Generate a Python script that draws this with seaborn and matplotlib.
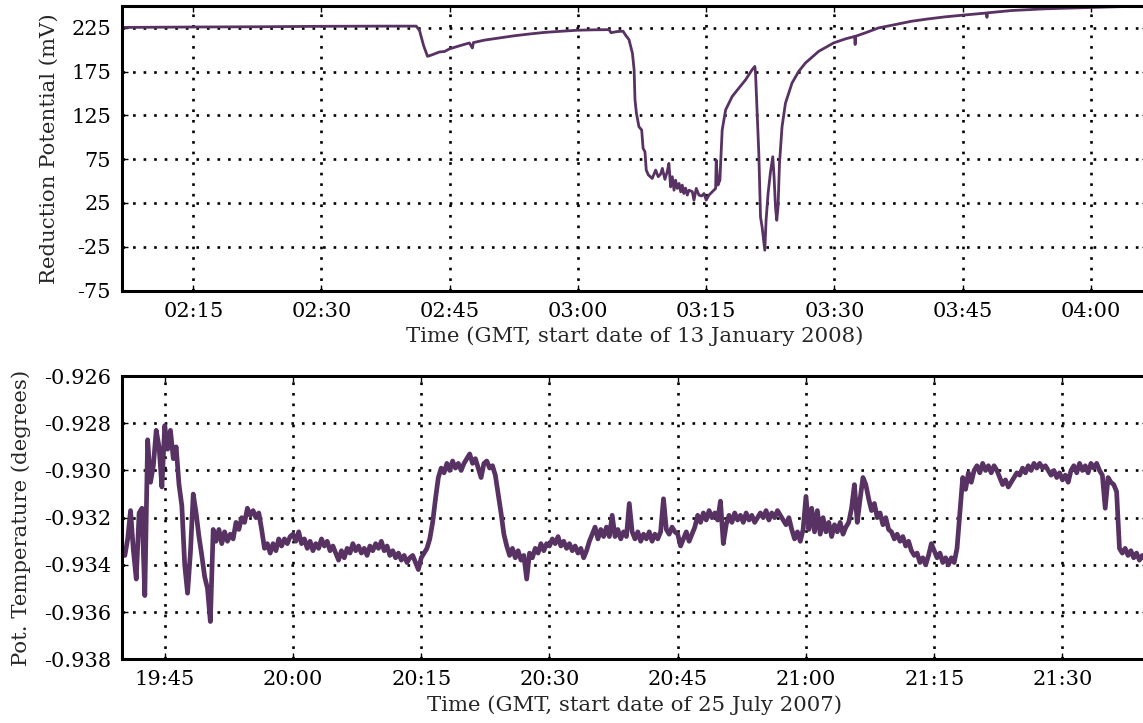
import matplotlib
matplotlib.use("Agg")
import matplotlib.pyplot as plt
import matplotlib.dates as mdates
import matplotlib.ticker as mticker
import seaborn as sns
import pandas as pd

# ---------------- data: top panel (reduction potential, mV) ----------------
redox_times = [
    "02:06:00", "02:15:00", "02:22:47", "02:30:00", "02:36:47", "02:41:05", "02:41:28", "02:41:56",
    "02:42:24", "02:42:52", "02:43:48", "02:44:23", "02:44:58", "02:46:08", "02:47:18", "02:47:39",
    "02:47:46", "02:49:03", "02:50:48", "02:52:33", "02:54:18", "02:56:03", "02:57:48", "02:59:54",
    "03:01:53", "03:03:38", "03:03:52", "03:04:34", "03:05:16", "03:05:37", "03:05:58", "03:06:22",
    "03:06:34", "03:06:40", "03:06:50", "03:07:08", "03:07:27", "03:07:37", "03:07:50", "03:07:59",
    "03:08:14", "03:08:41", "03:09:05", "03:09:23", "03:09:40", "03:09:52", "03:10:10", "03:10:26",
    "03:10:38", "03:10:50", "03:11:02", "03:11:14", "03:11:25", "03:11:37", "03:11:49", "03:12:01",
    "03:12:12", "03:12:23", "03:12:35", "03:12:47", "03:12:59", "03:13:22", "03:13:34", "03:13:50",
    "03:14:09", "03:14:28", "03:14:44", "03:15:00", "03:15:19", "03:15:42", "03:16:06", "03:16:10",
    "03:16:22", "03:16:36", "03:16:41", "03:16:52", "03:17:16", "03:18:02", "03:18:49", "03:19:36",
    "03:20:22", "03:20:41", "03:20:46", "03:21:09", "03:21:21", "03:21:32", "03:21:51", "03:22:00",
    "03:22:14", "03:22:31", "03:22:47", "03:22:56", "03:23:06", "03:23:15", "03:23:24", "03:23:34",
    "03:23:52", "03:24:16", "03:25:02", "03:25:49", "03:26:36", "03:28:09", "03:29:54", "03:31:16",
    "03:32:21", "03:32:25", "03:32:29", "03:33:36", "03:35:10", "03:37:07", "03:39:01", "03:41:00",
    "03:42:56", "03:44:51", "03:47:46", "03:47:50", "03:47:54", "03:50:41", "03:54:39", "03:58:30",
    "04:02:21", "04:05:51", "04:10:00",
]
redox_mv = [
    225.5, 226.0, 226.3, 226.8, 227.0, 227.0, 222.0, 205.0,
    192.5, 194.0, 197.5, 198.0, 201.0, 204.5, 207.8, 202.0,
    208.2, 211.0, 213.5, 216.0, 218.0, 219.8, 221.0, 222.3,
    222.8, 223.0, 219.5, 220.8, 221.2, 216.0, 211.6, 196.0,
    177.0, 143.0, 127.5, 112.0, 108.4, 87.4, 83.5, 62.6,
    57.0, 53.0, 62.6, 55.0, 58.0, 64.5, 52.0, 60.6,
    70.2, 43.4, 55.0, 39.6, 51.0, 41.6, 47.3, 37.7,
    45.4, 35.8, 42.0, 34.0, 39.6, 38.0, 28.2, 41.6,
    34.0, 33.0, 35.8, 28.2, 34.0, 37.7, 41.6, 74.0,
    45.4, 51.0, 70.0, 108.4, 131.3, 146.6, 156.2, 165.7,
    177.2, 181.0, 173.4, 81.7, 9.0, -2.4, -29.0, 5.2,
    35.8, 60.6, 77.8, 55.0, 20.5, 5.2, 20.5, 70.2,
    112.0, 139.0, 162.0, 175.3, 184.9, 198.2, 207.8, 212.4,
    215.2, 206.0, 215.5, 219.3, 225.0, 228.8, 232.6, 235.3,
    237.6, 239.4, 242.0, 237.0, 242.2, 244.8, 246.8, 247.9,
    249.0, 249.8, 250.5,
]
redox_date = "2008-01-13"
redox_xlim = ("02:06:40", "04:06:40")
redox_yticks = [-75, -25, 25, 75, 125, 175, 225]

# ---------------- data: bottom panel (potential temperature), every 20 s from 19:40 ----------------
temp_start = "2007-07-25 19:40:00"
temp_step = "20s"
pot_temp = [
    # 19:40-19:45
    -0.9333, -0.9336, -0.9329, -0.9317, -0.9334, -0.9346, -0.9318, -0.9316, -0.9353, -0.9287, -0.9305, -0.9298, -0.9283, -0.9290, -0.9307,
    # 19:45-19:50
    -0.9281, -0.9291, -0.9283, -0.9295, -0.9290, -0.9306, -0.9315, -0.9340, -0.9352, -0.9335, -0.9310, -0.9318, -0.9328, -0.9336, -0.9345,
    # 19:50-19:55
    -0.9350, -0.9364, -0.9325, -0.9330, -0.9325, -0.9331, -0.9326, -0.9330, -0.9327, -0.9329, -0.9322, -0.9325, -0.9320, -0.9322, -0.9316,
    # 19:55-20:00
    -0.9319, -0.9317, -0.9320, -0.9318, -0.9325, -0.9333, -0.9331, -0.9335, -0.9331, -0.9334, -0.9329, -0.9332, -0.9329, -0.9331, -0.9328,
    # 20:00-20:05
    -0.9327, -0.9330, -0.9326, -0.9331, -0.9329, -0.9333, -0.9330, -0.9334, -0.9331, -0.9333, -0.9329, -0.9332, -0.9330, -0.9334, -0.9332,
    # 20:05-20:10
    -0.9335, -0.9338, -0.9334, -0.9337, -0.9333, -0.9335, -0.9331, -0.9334, -0.9332, -0.9335, -0.9333, -0.9336, -0.9332, -0.9334, -0.9331,
    # 20:10-20:15
    -0.9333, -0.9330, -0.9334, -0.9332, -0.9336, -0.9334, -0.9337, -0.9335, -0.9338, -0.9336, -0.9339, -0.9337, -0.9336, -0.9339, -0.9342,
    # 20:15-20:20
    -0.9337, -0.9335, -0.9333, -0.9329, -0.9322, -0.9312, -0.9303, -0.9299, -0.9301, -0.9297, -0.9300, -0.9296, -0.9299, -0.9297, -0.9300,
    # 20:20-20:25
    -0.9297, -0.9295, -0.9293, -0.9297, -0.9295, -0.9299, -0.9303, -0.9297, -0.9296, -0.9299, -0.9298, -0.9302, -0.9310, -0.9318, -0.9327,
    # 20:25-20:30
    -0.9332, -0.9336, -0.9333, -0.9337, -0.9334, -0.9338, -0.9336, -0.9346, -0.9335, -0.9337, -0.9333, -0.9335, -0.9331, -0.9334, -0.9331,
    # 20:30-20:35
    -0.9332, -0.9329, -0.9331, -0.9328, -0.9332, -0.9330, -0.9333, -0.9331, -0.9334, -0.9332, -0.9335, -0.9333, -0.9337, -0.9334, -0.9330,
    # 20:35-20:40
    -0.9327, -0.9324, -0.9329, -0.9325, -0.9328, -0.9324, -0.9328, -0.9319, -0.9328, -0.9325, -0.9329, -0.9326, -0.9328, -0.9314, -0.9326,
    # 20:40-20:45
    -0.9329, -0.9326, -0.9330, -0.9327, -0.9329, -0.9326, -0.9330, -0.9327, -0.9329, -0.9326, -0.9312, -0.9325, -0.9327, -0.9324, -0.9326,
    # 20:45-20:50
    -0.9327, -0.9332, -0.9329, -0.9326, -0.9330, -0.9327, -0.9324, -0.9319, -0.9322, -0.9318, -0.9321, -0.9317, -0.9320, -0.9318, -0.9321,
    # 20:50-20:55
    -0.9313, -0.9331, -0.9323, -0.9319, -0.9322, -0.9318, -0.9321, -0.9319, -0.9322, -0.9318, -0.9321, -0.9319, -0.9322, -0.9320, -0.9318,
    # 20:55-21:00
    -0.9320, -0.9317, -0.9321, -0.9318, -0.9320, -0.9317, -0.9319, -0.9321, -0.9323, -0.9320, -0.9325, -0.9329, -0.9326, -0.9330, -0.9325,
    # 21:00-21:05
    -0.9311, -0.9325, -0.9316, -0.9326, -0.9317, -0.9327, -0.9320, -0.9326, -0.9322, -0.9328, -0.9323, -0.9326, -0.9322, -0.9327, -0.9324,
    # 21:05-21:10
    -0.9322, -0.9316, -0.9306, -0.9322, -0.9312, -0.9303, -0.9306, -0.9312, -0.9317, -0.9314, -0.9320, -0.9318, -0.9323, -0.9320, -0.9325,
    # 21:10-21:15
    -0.9326, -0.9329, -0.9327, -0.9330, -0.9328, -0.9332, -0.9330, -0.9334, -0.9336, -0.9335, -0.9339, -0.9337, -0.9340, -0.9336, -0.9331,
    # 21:15-21:20
    -0.9334, -0.9337, -0.9335, -0.9339, -0.9337, -0.9340, -0.9337, -0.9339, -0.9333, -0.9318, -0.9303, -0.9308, -0.9301, -0.9305, -0.9300,
    # 21:20-21:25
    -0.9298, -0.9301, -0.9297, -0.9300, -0.9298, -0.9301, -0.9298, -0.9300, -0.9303, -0.9306, -0.9304, -0.9307, -0.9305, -0.9303, -0.9301,
    # 21:25-21:30
    -0.9302, -0.9299, -0.9301, -0.9298, -0.9300, -0.9297, -0.9299, -0.9297, -0.9299, -0.9298, -0.9300, -0.9302, -0.9300, -0.9303, -0.9301,
    # 21:30-21:35
    -0.9304, -0.9302, -0.9305, -0.9300, -0.9298, -0.9301, -0.9297, -0.9300, -0.9298, -0.9301, -0.9297, -0.9299, -0.9297, -0.9300, -0.9302,
    # 21:35-21:40
    -0.9316, -0.9303, -0.9305, -0.9306, -0.9309, -0.9333, -0.9335, -0.9333, -0.9336, -0.9334, -0.9337, -0.9335, -0.9338, -0.9336, -0.9338,
    # 21:40-
    -0.9336, -0.9338, -0.9335, -0.9337, -0.9336,
]
temp_date = "2007-07-25"
temp_xlim = ("19:40:00", "21:40:00")
temp_yticks = [-0.938, -0.936, -0.934, -0.932, -0.930, -0.928, -0.926]

# ---------------- styling ----------------
LINE_COLOR = "#573263"

sns.set_style("ticks")
plt.rcParams.update({
    "font.family": ["DejaVu Serif"],
    "axes.unicode_minus": False,
    "xtick.direction": "in",
    "ytick.direction": "in",
    "xtick.top": True,
    "ytick.right": True,
    "xtick.major.size": 4,
    "ytick.major.size": 4,
    "xtick.major.width": 1.0,
    "ytick.major.width": 1.0,
    "xtick.major.pad": 8,
    "ytick.major.pad": 8,
    "xtick.labelsize": 15,
    "ytick.labelsize": 15,
    "axes.labelsize": 15.3,
    "axes.linewidth": 2.2,
    "axes.edgecolor": "black",
    "xtick.color": "black",
    "ytick.color": "black",
    "text.color": "#111111",
})

df_top = pd.DataFrame({
    "time": pd.to_datetime([f"{redox_date} {t}" for t in redox_times]),
    "mv": redox_mv,
})
df_bot = pd.DataFrame({
    "time": pd.date_range(temp_start, periods=len(pot_temp), freq=temp_step),
    "temp": pot_temp,
})

fig = plt.figure(figsize=(11.43, 7.23), dpi=100)
ax1 = fig.add_axes([0.10674, 0.5982, 0.8976, 0.3935])
ax2 = fig.add_axes([0.10674, 0.0881, 0.8976, 0.3918])

sns.lineplot(data=df_top, x="time", y="mv", ax=ax1, color=LINE_COLOR,
             linewidth=2.0, estimator=None, sort=False)
sns.lineplot(data=df_bot, x="time", y="temp", ax=ax2, color=LINE_COLOR,
             linewidth=3.4, estimator=None, sort=False)

for ax, date, xl in ((ax1, redox_date, redox_xlim), (ax2, temp_date, temp_xlim)):
    ax.set_xlim(pd.Timestamp(f"{date} {xl[0]}"), pd.Timestamp(f"{date} {xl[1]}"))
    ax.xaxis.set_major_locator(mdates.MinuteLocator(byminute=[0, 15, 30, 45]))
    ax.xaxis.set_major_formatter(mdates.DateFormatter("%H:%M"))
    ax.grid(True, color="black", linestyle=(0, (1, 3)), linewidth=1.9)
    for s in ax.spines.values():
        s.set_visible(True)

ax1.set_ylim(-75, 250)
ax1.set_yticks(redox_yticks)
ax1.set_xlabel("Time (GMT, start date of 13 January 2008)", labelpad=4)
ax1.set_ylabel("Reduction Potential (mV)", labelpad=9)

ax2.set_ylim(-0.938, -0.926)
ax2.set_yticks(temp_yticks)
ax2.yaxis.set_major_formatter(mticker.FormatStrFormatter("%.3f"))
ax2.set_xlabel("Time (GMT, start date of 25 July 2007)", labelpad=4)
ax2.set_ylabel("Pot. Temperature (degrees)", labelpad=9)

fig.savefig("out.png", dpi=100)
